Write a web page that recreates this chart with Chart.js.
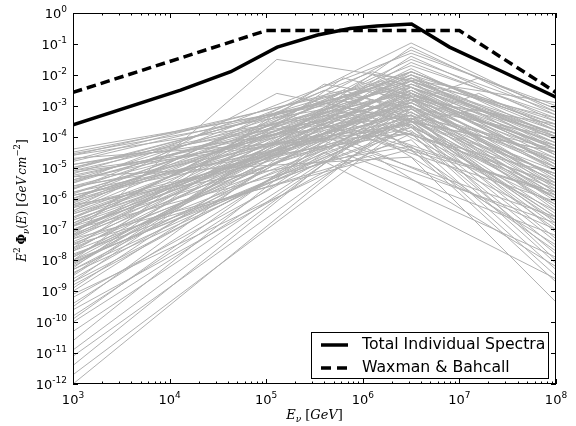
<!DOCTYPE html>
<html lang="en">
<head>
<meta charset="UTF-8">
<title>Neutrino spectra</title>
<script src="https://cdn.jsdelivr.net/npm/chart.js"></script>
<style>
  html, body { margin: 0; padding: 0; background: #fff; }
</style>
</head>
<body>
<canvas id="espectros" width="576" height="426"></canvas>
<script>
// individual sources, broken power laws, everything in log10
// flux (E^2 Phi) at 1e3 GeV
const srcLogStart = [
  -4.5, -4.6, -4.8, -4.9, -5.0, -5.1, -5.2, -5.3, -5.4, -5.5,
  -5.6, -5.7, -5.8, -5.9, -6.0, -6.0, -6.1, -6.2, -6.3, -6.4,
  -6.5, -6.5, -6.6, -6.7, -6.8, -6.9, -7.0, -7.0, -7.1, -7.2,
  -7.3, -7.4, -7.5, -7.6, -7.7, -7.8, -7.9, -8.0, -8.1, -8.2,
  -8.3, -8.4, -8.6, -8.8, -9.0, -9.2, -9.4, -9.6, -9.8, -10.3,
  -10.9, -11.1, -11.4, -11.7, -12.0,
  -5.3, -6.2, -7.0, -4.7, -6.4, -5.5, -8.5, -7.3, -9.1, -6.9, -8.0,
  -5.0, -5.6, -6.3, -6.7, -7.2, -7.6, -8.1, -8.7, -4.4, -5.9, -9.5, -10.0, -6.9, -7.9,
  -5.4, -6.6, -7.1, -8.3, -4.9, -6.0, -9.9, -7.5, -5.7, -8.9,
  -7.2, -6.1, -8.0, -5.1,
  -6.8, -7.7, -5.8,
  -4.6, -10.6, -8.7,
  -5.05, -5.25, -5.45, -5.65, -5.85, -6.05, -6.25, -6.45, -6.65, -6.85,
  -7.05, -7.25, -7.45, -7.65, -7.85, -8.05,
  -8.25, -8.45, -4.55, -4.75,
  -5.15, -6.15, -7.15, -8.15
];
// break energy
const srcLogBreak = [
  6.5, 6.5, 6.5, 6.5, 6.5, 6.5, 6.5, 6.5, 6.5, 6.5,
  6.5, 6.5, 6.5, 6.5, 6.5, 6.5, 6.5, 6.5, 6.5, 6.5,
  6.5, 6.5, 6.5, 6.5, 6.5, 6.5, 6.5, 6.5, 6.5, 6.5,
  6.5, 6.5, 6.5, 6.5, 6.5, 6.5, 6.5, 6.5, 6.5, 6.5,
  6.5, 6.5, 6.5, 6.5, 6.5, 6.5, 6.5, 6.5, 6.5, 6.5,
  6.5, 6.5, 6.5, 6.5, 6.5,
  6.5, 6.5, 6.5, 6.5, 6.5, 6.5, 6.5, 6.5, 6.5, 6.5, 6.5,
  5.6, 5.6, 5.6, 5.6, 5.6, 5.6, 5.6, 5.6, 5.6, 5.6, 5.6, 5.6, 5.6, 5.6,
  6.1, 6.1, 6.1, 6.1, 6.1, 6.1, 6.1, 6.1, 6.1, 6.1,
  5.11, 5.11, 5.11, 5.11,
  7.2, 7.2, 7.2,
  6.3, 5.9, 6.5,
  6.5, 6.5, 6.5, 6.5, 6.5, 6.5, 6.5, 6.5, 6.5, 6.5,
  6.5, 6.5, 6.5, 6.5, 6.5, 6.5,
  5.8, 5.8, 5.8, 5.8,
  6.2, 6.2, 6.2, 6.2
];
// flux at the break
const srcLogPeak = [
  -2.4, -2.9, -2.2, -3.3, -2.6, -3.6, -1.9, -2.8, -3.1, -2.3,
  -3.9, -2.0, -2.7, -3.4, -1.7, -2.5, -3.0, -2.2, -3.7, -1.9,
  -2.6, -3.2, -2.1, -2.9, -1.5, -3.5, -2.4, -2.8, -1.8, -3.3,
  -2.3, -2.7, -2.0, -3.0, -1.6, -3.8, -2.5, -2.2, -3.1, -1.9,
  -2.6, -3.4, -2.4, -2.9, -2.1, -3.2, -2.5, -3.6, -2.7, -3.0,
  -2.8, -3.3, -2.6, -3.5, -3.1,
  -4.66, -4.3, -4.1, -3.9, -0.97, -1.3, -1.4, -4.4, -3.9, -1.2, -3.7,
  -2.9, -3.5, -2.5, -4.0, -3.2, -2.3, -3.8, -4.5, -3.0, -4.3, -3.6, -4.8, -2.7, -3.3,
  -2.4, -3.4, -2.0, -3.9, -3.2, -2.8, -3.0, -4.6, -1.9, -2.5,
  -1.5, -2.6, -3.2, -3.6,
  -2.1, -2.6, -3.1,
  -2.2, -3.4, -1.1,
  -2.1, -3.0, -2.5, -3.3, -2.2, -2.9, -3.6, -2.4, -1.9, -3.1,
  -2.6, -2.0, -3.4, -2.3, -2.8, -3.5,
  -2.1, -2.7, -3.0, -2.5,
  -3.8, -2.2, -3.2, -2.4
];
// flux at 1e8 GeV
const srcLogEnd = [
  -4.6, -5.3, -3.9, -6.0, -4.2, -6.6, -3.6, -5.0, -4.7, -4.4,
  -6.2, -3.5, -5.6, -5.2, -3.3, -4.9, -6.4, -4.1, -7.0, -3.8,
  -5.4, -5.9, -4.3, -4.8, -3.2, -7.3, -5.1, -4.5, -4.0, -6.8,
  -3.9, -5.7, -4.6, -5.3, -3.4, -7.6, -4.4, -5.0, -6.1, -3.7,
  -4.9, -6.5, -4.2, -5.5, -3.6, -6.3, -4.7, -8.0, -5.1, -6.0,
  -5.8, -7.1, -4.8, -6.9, -5.6,
  -9.35, -8.5, -8.3, -8.1, -3.2, -3.0, -3.5, -8.7, -7.8, -3.1, -7.4,
  -4.5, -5.8, -4.0, -6.6, -5.2, -3.6, -7.0, -7.9, -5.5, -7.2, -6.1, -8.6, -4.4, -5.9,
  -4.3, -6.4, -3.9, -7.5, -5.6, -6.0, -5.4, -8.2, -3.4, -5.0,
  -2.9, -4.5, -5.8, -6.8,
  -3.1, -3.8, -4.4,
  -4.0, -6.7, -3.3,
  -4.2, -5.8, -4.9, -5.1, -3.8, -5.3, -6.7, -4.6, -3.7, -5.9,
  -4.4, -4.1, -6.2, -4.0, -5.5, -6.6,
  -3.9, -5.2, -5.7, -4.8,
  -7.7, -4.5, -6.0, -4.3
];

// summed spectrum
const totalE = [1e3, 1.3e4, 4.3e4, 1.3e5, 3.4e5, 7.4e5, 1.4e6, 3.2e6, 7.9e6, 2.8e7, 1e8];
const totalFlux = [2.4e-4, 3.2e-3, 1.26e-2, 7.9e-2, 0.195, 0.316, 0.38, 0.44, 0.079, 0.0126, 1.9e-3];

// Waxman & Bahcall bound
const wbE = [1e3, 1e5, 1e7, 1e8];
const wbFlux = [2.7e-3, 0.27, 0.27, 2.7e-3];

const xDecadas = [3, 4, 5, 6, 7, 8];
const yDecadas = [0, -1, -2, -3, -4, -5, -6, -7, -8, -9, -10, -11, -12];

const datasets = [];
for (let i = 0; i < srcLogStart.length; i++) {
    datasets.push({
        data: [
            { x: 1e3, y: 10 ** srcLogStart[i] },
            { x: 10 ** srcLogBreak[i], y: 10 ** srcLogPeak[i] },
            { x: 1e8, y: 10 ** srcLogEnd[i] }
        ],
        borderColor: '#b0b0b0',
        borderWidth: 1
    });
}
datasets.push({
    label: 'Total Individual Spectra',
    data: totalE.map((e, i) => ({ x: e, y: totalFlux[i] })),
    borderColor: '#000',
    borderWidth: 3.5
});
datasets.push({
    label: 'Waxman & Bahcall',
    data: wbE.map((e, i) => ({ x: e, y: wbFlux[i] })),
    borderColor: '#000',
    borderWidth: 3.5,
    borderDash: [9.5, 5]
});

// writes a run of text pieces with their own font and vertical shift
function textoRico(ctx, partes, x, y, align) {
    let largura = 0;
    for (const p of partes) {
        ctx.font = p.f;
        p.w = ctx.measureText(p.t).width + (p.gap || 0);
        largura += p.w;
    }
    let cx = align === 'right' ? x - largura : align === 'center' ? x - largura / 2 : x;
    ctx.textAlign = 'left';
    ctx.textBaseline = 'alphabetic';
    for (const p of partes) {
        ctx.font = p.f;
        ctx.fillText(p.t, cx, y + (p.dy || 0));
        cx += p.w;
    }
}

const SANS = '13px "DejaVu Sans"';
const SANS_EXP = '9px "DejaVu Sans"';
const IT = 'italic 13px "DejaVu Serif"';
const RM = '13px "DejaVu Serif"';
const SMALL_IT = 'italic 9px "DejaVu Serif"';
const IT_Y = 'italic 12px "DejaVu Serif"';
const RM_Y = '12px "DejaVu Serif"';
const SMALL_Y = '8.5px "DejaVu Serif"';
const SMALL_IT_Y = 'italic 8.5px "DejaVu Serif"';

function potencia(ctx, exp, x, y, align) {
    textoRico(ctx, [
        { t: '10', f: SANS },
        { t: String(exp), f: SANS_EXP, dy: -6 }
    ], x, y, align);
}

const eixos = {
    id: 'eixos',
    afterDatasetsDraw(chart) {
        const { ctx, chartArea: a, scales: { x, y } } = chart;
        ctx.save();
        ctx.strokeStyle = '#000';
        ctx.fillStyle = '#000';
        ctx.lineWidth = 1;

        // inward ticks on all four sides
        ctx.beginPath();
        for (const d of xDecadas) {
            for (let k = 1; k <= 9; k++) {
                if (d === 8 && k > 1) break;
                const px = Math.round(x.getPixelForValue(k * 10 ** d)) + 0.5;
                const len = k === 1 ? 5 : 2.5;
                ctx.moveTo(px, a.bottom); ctx.lineTo(px, a.bottom - len);
                ctx.moveTo(px, a.top); ctx.lineTo(px, a.top + len);
            }
        }
        for (const d of yDecadas) {
            const py = Math.round(y.getPixelForValue(10 ** d)) + 0.5;
            ctx.moveTo(a.left, py); ctx.lineTo(a.left + 5, py);
            ctx.moveTo(a.right, py); ctx.lineTo(a.right - 5, py);
        }
        ctx.stroke();
        ctx.strokeRect(Math.round(a.left) + 0.5, Math.round(a.top) + 0.5,
            Math.round(a.width) - 1, Math.round(a.height) - 1);

        // tick labels
        for (const d of xDecadas) {
            potencia(ctx, d, x.getPixelForValue(10 ** d), a.bottom + 20, 'center');
        }
        for (const d of yDecadas) {
            potencia(ctx, d, a.left - 6, y.getPixelForValue(10 ** d) + 5, 'right');
        }

        // axis titles
        textoRico(ctx, [
            { t: 'E', f: IT },
            { t: 'ν', f: SMALL_IT, dy: 3, gap: 4 },
            { t: '[', f: RM },
            { t: 'GeV', f: IT },
            { t: ']', f: RM }
        ], (a.left + a.right) / 2, 419, 'center');

        ctx.save();
        ctx.translate(26, (a.top + a.bottom) / 2 + 2);
        ctx.rotate(-Math.PI / 2);
        textoRico(ctx, [
            { t: 'E', f: IT_Y },
            { t: '2', f: SMALL_Y, dy: -6, gap: 3 },
            { t: 'Φ', f: 'bold 12px "DejaVu Serif"' },
            { t: 'ν', f: SMALL_IT_Y, dy: 3 },
            { t: '(', f: RM_Y },
            { t: 'E', f: IT_Y },
            { t: ')', f: RM_Y, gap: 4 },
            { t: '[', f: RM_Y },
            { t: 'GeV', f: IT_Y, gap: 2 },
            { t: 'cm', f: IT_Y },
            { t: '−2', f: SMALL_Y, dy: -6 },
            { t: ']', f: RM_Y }
        ], 0, 0, 'center');
        ctx.restore();

        // legend box
        const lx = 311.5, ly = 332.5, lw = 237, lh = 46;
        ctx.fillStyle = '#fff';
        ctx.fillRect(lx, ly, lw, lh);
        ctx.strokeRect(lx, ly, lw, lh);
        ctx.fillStyle = '#000';
        const itens = chart.data.datasets.slice(-2);
        itens.forEach((ds, i) => {
            const yy = 345 + i * 23;
            ctx.lineWidth = ds.borderWidth;
            ctx.setLineDash(ds.borderDash ? [10, 6] : []);
            ctx.beginPath();
            ctx.moveTo(321, yy); ctx.lineTo(348, yy);
            ctx.stroke();
            ctx.setLineDash([]);
            ctx.font = '15.7px "DejaVu Sans"';
            ctx.textBaseline = 'middle';
            ctx.textAlign = 'left';
            ctx.fillText(ds.label, 362, yy);
        });
        ctx.restore();
    }
};

new Chart(document.getElementById('espectros'), {
    type: 'line',
    data: { datasets },
    options: {
        responsive: false,
        animation: false,
        events: [],
        layout: { padding: { left: 73, top: 13, right: 20, bottom: 42 } },
        elements: { point: { radius: 0 }, line: { tension: 0 } },
        plugins: { legend: { display: false }, tooltip: { enabled: false } },
        scales: {
            x: { type: 'logarithmic', min: 1e3, max: 1e8, display: false },
            y: { type: 'logarithmic', min: 1e-12, max: 1, display: false }
        }
    },
    plugins: [eixos]
});
</script>
</body>
</html>
